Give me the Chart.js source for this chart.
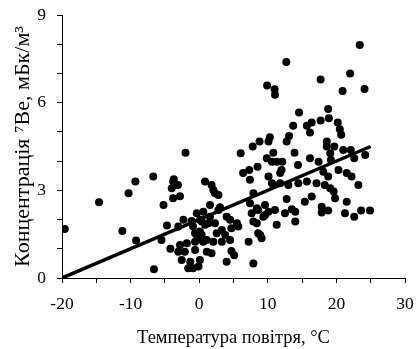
<!DOCTYPE html>
<html lang="uk">
<head>
<meta charset="UTF-8">
<title>Концентрація 7Be та температура</title>
<script src="https://cdn.jsdelivr.net/npm/chart.js"></script>
<style>
  body { margin: 0; background: #fff; }
  #wrap { width: 416px; height: 349px; }
</style>
</head>
<body>
<div id="wrap"><canvas id="chart" width="416" height="349"></canvas></div>
<script>
// air temperature, °C
const tempX = [
  -19.6, -14.6, -11.2, -10.3, -9.3, -9.2, -6.7, -6.6, -5.5, -5.2,
  -4.7, -4.2, -4.0, -3.8, -3.7, -3.8, -3.1, -2.8, -3.05, -3.05,
  -2.8, -2.3, -2.55, -2.0, -2.1, -1.8, -1.6, -1.3, -1.1, -0.9,
  -0.9, -0.6, -0.6, -0.6, -0.35, -0.35, -0.1, 0.1, 0.1, 0.1,
  0.36, 0.36, 0.6, 0.6, 0.85, 0.85, 1.1, 1.1, 1.33, 1.57,
  1.57, 1.8, 1.8, 2.06, 2.06, 2.3, 2.3, 2.55, 2.8, 2.8,
  3.03, 3.3, 3.3, 3.8, 4.0, 4.0, 4.5, 4.5, 4.7, 4.7,
  5.1, 5.5, 5.7, 6.05, 6.4, 7.2, 7.3, 7.4, 7.4, 7.65,
  7.8, 7.9, 7.9, 7.9, 8.4, 8.4, 8.5, 8.6, 8.6, 8.8,
  8.9, 9.1, 9.35, 9.6, 9.6, 9.85, 9.9, 10.1, 10.1, 10.1,
  10.3, 10.6, 10.6, 10.8, 10.8, 11.0, 11.05, 11.05, 11.3, 11.3,
  11.8, 11.8, 12.0, 12.1, 12.5, 12.7, 12.75, 12.75, 13.0, 13.1,
  13.5, 13.7, 13.9, 14.0, 14.0, 14.4, 14.45, 14.55, 15.4, 15.7,
  15.7, 16.15, 16.15, 16.4, 16.4, 17.1, 17.4, 17.7, 17.7, 17.85,
  17.85, 18.1, 18.3, 18.6, 18.6, 18.8, 18.8, 18.8, 18.9, 19.1,
  19.1, 19.2, 19.6, 19.7, 19.8, 20.2, 20.3, 20.5, 20.7, 20.9,
  21.0, 21.25, 21.5, 21.5, 22.0, 22.1, 22.2, 22.6, 22.6, 23.2,
  23.4, 23.6, 24.1, 24.2, 24.9
];
// 7Be concentration, mBq/m3
const conc = [
  1.68, 2.59, 1.61, 2.90, 3.30, 1.28, 3.47, 0.30, 1.30, 2.50,
  1.80, 1.00, 3.07, 3.30, 3.38, 2.73, 3.18, 2.80, 1.76, 0.90,
  1.13, 1.99, 0.62, 4.29, 0.90, 1.19, 0.33, 0.56, 1.95, 1.76,
  0.33, 1.53, 1.24, 0.96, 2.22, 1.30, 0.39, 0.62, 1.59, 1.99,
  1.93, 1.47, 2.27, 1.24, 3.30, 1.82, 0.90, 1.30, 1.87, 2.50,
  2.10, 3.18, 0.85, 3.01, 1.24, 2.90, 1.87, 1.53, 2.84, 2.33,
  2.42, 1.64, 1.24, 1.47, 2.10, 0.56, 1.99, 1.30, 1.70, 0.92,
  0.78, 1.87, 1.76, 4.27, 3.59, 1.24, 3.70, 3.36, 2.56, 2.22,
  4.50, 2.90, 1.93, 0.50, 1.87, 2.39, 3.81, 2.33, 1.53, 4.67,
  1.47, 1.36, 2.10, 2.50, 2.16, 4.10, 6.59, 4.67, 3.47, 2.27,
  4.82, 3.98, 3.24, 4.29, 3.18, 6.46, 6.27, 2.33, 3.98, 1.82,
  3.59, 3.24, 3.70, 3.98, 2.22, 7.39, 4.67, 2.70, 3.18, 4.86,
  2.35, 5.21, 4.29, 2.27, 1.93, 3.87, 3.24, 5.66, 2.61, 5.21,
  3.30, 4.98, 4.10, 5.32, 2.79, 3.24, 3.98, 6.79, 5.39, 2.44,
  2.24, 3.64, 3.18, 4.67, 4.50, 5.78, 3.47, 2.31, 5.47, 4.27,
  3.07, 4.04, 2.96, 4.50, 2.73, 5.32, 3.70, 5.09, 4.90, 6.40,
  4.38, 2.22, 3.59, 2.61, 7.00, 4.38, 3.47, 4.10, 2.10, 3.18,
  7.97, 2.31, 6.47, 4.21, 2.31
];
// linear trend
const fitX = [-20, 25];
const fitY = [0, 4.5];

const xLabels = [-20, -10, 0, 10, 20, 30];
const yLabels = [0, 3, 6, 9];

const points = tempX.map((x, i) => ({ x: x, y: conc[i] }));
const trend = fitX.map((x, i) => ({ x: x, y: fitY[i] }));

Chart.defaults.font.family = "'Liberation Serif', 'Times New Roman', serif";
Chart.defaults.color = '#000';

// axis lines with short outward tick marks, no grid inside the plot
const axisGrid = {
  drawOnChartArea: false,
  drawTicks: true,
  tickLength: 5,
  tickWidth: 1,
  tickColor: '#000',
  color: '#000',
  lineWidth: 1
};

new Chart(document.getElementById('chart'), {
  type: 'scatter',
  data: {
    datasets: [
      {
        data: trend,
        showLine: true,
        borderColor: '#000',
        borderWidth: 3.5,
        pointRadius: 0
      },
      {
        data: points,
        backgroundColor: '#000',
        borderColor: '#000',
        pointRadius: 4,
        borderWidth: 0
      }
    ]
  },
  options: {
    responsive: false,
    animation: false,
    layout: { padding: { top: 15, right: 11, left: 0, bottom: 0 } },
    plugins: { legend: { display: false }, tooltip: { enabled: false } },
    scales: {
      x: {
        min: -20, max: 30,
        afterFit: s => {
          s.height = 71;
          s.paddingLeft = 0;
          s.paddingRight = 0;
        },
        border: { display: true, color: '#000', width: 1 },
        grid: axisGrid,
        ticks: {
          stepSize: 5, autoSkip: false, maxRotation: 0, padding: 11,
          font: { size: 17.5 },
          callback: v => xLabels.includes(v) ? String(v) : ''
        },
        title: {
          display: true,
          text: 'Температура повітря, °C',
          font: { size: 18.5 },
          padding: { top: 2, bottom: 0 }
        }
      },
      y: {
        min: 0, max: 9,
        afterFit: s => {
          s.width = 62;
          s.paddingTop = 0;
          s.paddingBottom = 0;
        },
        border: { display: true, color: '#000', width: 1 },
        grid: axisGrid,
        ticks: {
          stepSize: 1, autoSkip: false, padding: 11,
          font: { size: 17.5 },
          callback: v => yLabels.includes(v) ? String(v) : ''
        },
        title: {
          display: true,
          text: 'Концентрація ⁷Ве, мБк/м³',
          font: { size: 22 },
          padding: { top: 10, bottom: 0 }
        }
      }
    }
  }
});
</script>
</body>
</html>
